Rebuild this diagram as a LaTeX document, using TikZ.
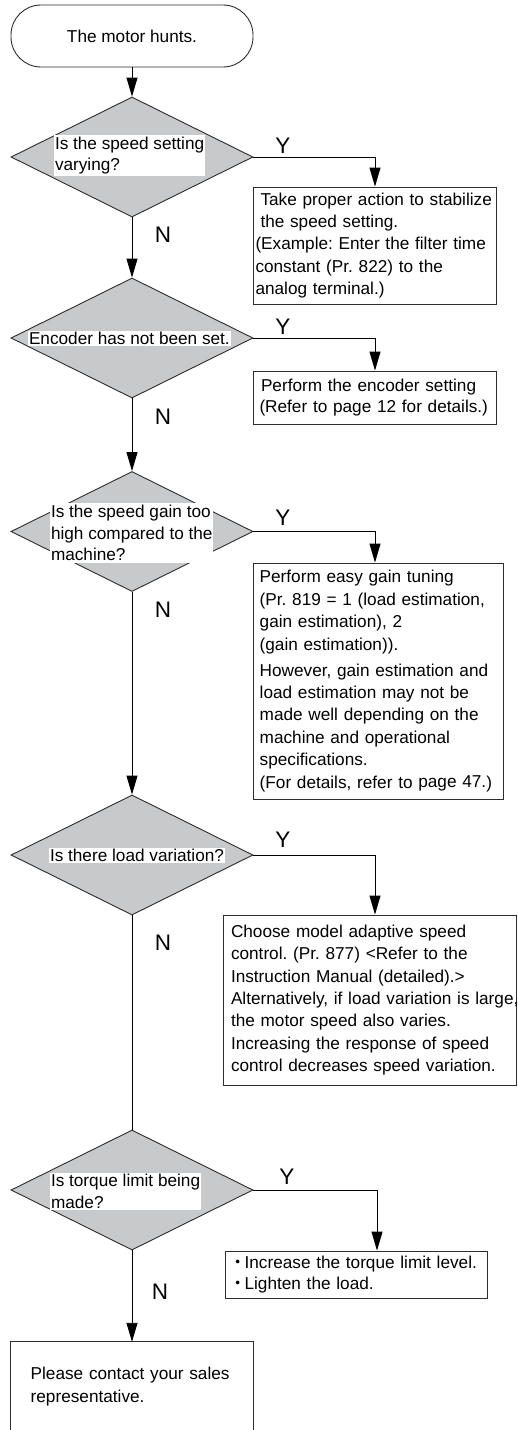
\documentclass[tikz,border=0pt]{standalone}
\usepackage{fontspec}
\setmainfont{Liberation Sans}
\newfontfamily\cjkfont{Noto Sans CJK JP}
\usetikzlibrary{shapes.geometric,arrows.meta}
\definecolor{dgray}{RGB}{200,201,203}
\definecolor{edge}{RGB}{45,45,45}
\frenchspacing
\begin{document}
\begin{tikzpicture}[x=1pt,y=-1pt,
  font=\fontsize{17.2}{22.4}\selectfont\frenchspacing,
  decision/.style={diamond, draw=edge, fill=dgray, line width=0.9pt,
    minimum width=242pt, minimum height=120pt, inner sep=0pt},
  qtext/.style={fill=white, align=left, inner xsep=0.8pt, inner ysep=1.6pt,
    font=\fontsize{17.2}{21.8}\selectfont\frenchspacing},
  actbox/.style={draw=edge, line width=0.9pt, align=left, inner ysep=0pt},
  yn/.style={font=\fontsize{22.5}{22.5}\selectfont, inner sep=0pt},
  arr/.style={line width=0.9pt, -{Triangle[length=19pt,width=11pt]}},
  conn/.style={line width=0.9pt}]
\useasboundingbox (0,0) rectangle (517,1430);
\clip (0,0) rectangle (517,1430);

% start
\node[draw=edge, line width=0.9pt, rounded corners=30pt,
  minimum width=242pt, minimum height=62pt, inner sep=0pt] (start) at (132,36) {The motor hunts.};

% decisions
\node[decision] (d1) at (132,157) {};
\node[decision] (d2) at (132,338) {};
\node[decision] (d3) at (132,531.5) {};
\node[decision] (d4) at (132,855) {};
\node[decision] (d5) at (132,1190) {};

\node[qtext, anchor=west] (q1) at (54,155.5) {Is the speed setting\\varying?};
\node[qtext, anchor=west] (q2) at (28,338.5) {Encoder has not been set.};
\node[qtext, anchor=west] (q3) at (50,533) {Is the speed gain too\\high compared to the\\machine?};
\node[qtext, anchor=west] (q4) at (49,855.5) {Is there load variation?};
\node[qtext, anchor=west] (q5) at (50,1191.5) {Is torque limit being\\made?};

% action boxes
\node[actbox, minimum width=243pt, minimum height=117pt, inner xsep=2.5pt, text width=238pt] (b1) at (374.5,245.5)
  {\hspace*{5pt}Take proper action to stabilize\\
   \hspace*{5pt}the speed setting.\\
   (Example: Enter the filter time\\
   constant (Pr. 822) to the\\
   analog terminal.)};
\node[actbox, minimum width=243pt, minimum height=53pt, inner xsep=6.5pt, text width=230pt,
  font=\fontsize{17.2}{21}\selectfont\frenchspacing] (b2) at (374.5,397.5)
  {\hspace*{1.5pt}Perform the encoder setting\\
   (Refer to page 12 for details.)};
\node[actbox, minimum width=250pt, minimum height=236pt, inner xsep=6.7pt, text width=236.6pt] (b3) at (378,681)
  {Perform easy gain tuning\\
   (Pr. 819 = 1 (load estimation,\\
   gain estimation), 2\\
   (gain estimation)).\\[3.5pt]
   However, gain estimation and\\
   load estimation may not be\\
   made well depending on the\\
   machine and operational\\
   specifications.\\
   (For details, refer to \raisebox{1pt}{page 47.})};
\node[actbox, minimum width=293.5pt, minimum height=170pt, inner xsep=8pt, text width=277.5pt] (b4) at (369.75,1000)
  {Choose model adaptive speed\\
   control. (Pr. 877) <Refer to the\\
   Instruction Manual (detailed).>\\
   \mbox{Alternatively, if load variation is large,}\\
   the motor speed also varies.\\
   Increasing the response of speed\\
   control decreases speed variation.};
\node[actbox, minimum width=262pt, minimum height=47pt, inner xsep=4.4pt, text width=253.2pt,
  font=\fontsize{17.2}{21}\selectfont\frenchspacing] (b5) at (356,1274.5)
  {{\cjkfont ・}\kern-2pt Increase the torque limit level.\\
   {\cjkfont ・}\kern-2pt Lighten the load.};

% final box (open at the bottom of the picture)
\node[minimum width=242pt, minimum height=90pt, inner xsep=19.7pt, text width=202.6pt, align=left,
  font=\fontsize{17.2}{23}\selectfont] (fin) at (132,1387)
  {Please contact your sales\\representative.};
\draw[edge, line width=0.9pt] ([yshift=-20pt]fin.south west) -- (fin.north west) -- (fin.north east) -- ([yshift=-20pt]fin.south east);

% main flow
\draw[arr] (start) -- (d1);
\draw[arr] (d1) -- (d2);
\draw[arr] (d2) -- (d3);
\draw[arr] (d3) -- (d4);
\draw[conn] (d4) -- (d5);
\draw[arr] (d5) -- (fin);

% yes branches
\draw[arr] (d1.east) -| ([xshift=0.5pt]b1.north);
\draw[arr] (d2.east) -| ([xshift=0.5pt]b2.north);
\draw[arr] (d3.east) -| ([xshift=-3pt]b3.north);
\draw[arr] (d4.east) -| ([xshift=5.25pt]b4.north);
\draw[arr] (d5.east) -| ([xshift=21pt]b5.north);

% labels
\node[yn] (y1) at (283,146) {Y};
\node[yn] (y2) at (283,327) {Y};
\node[yn] (y3) at (283,518) {Y};
\node[yn] (y4) at (283,840) {Y};
\node[yn] (y5) at (287,1177) {Y};
\node[yn] (n1) at (163,235) {N};
\node[yn] (n2) at (163,417) {N};
\node[yn] (n3) at (163,610) {N};
\node[yn] (n4) at (163,943) {N};
\node[yn] (n5) at (160,1292) {N};
\end{tikzpicture}
\end{document}
